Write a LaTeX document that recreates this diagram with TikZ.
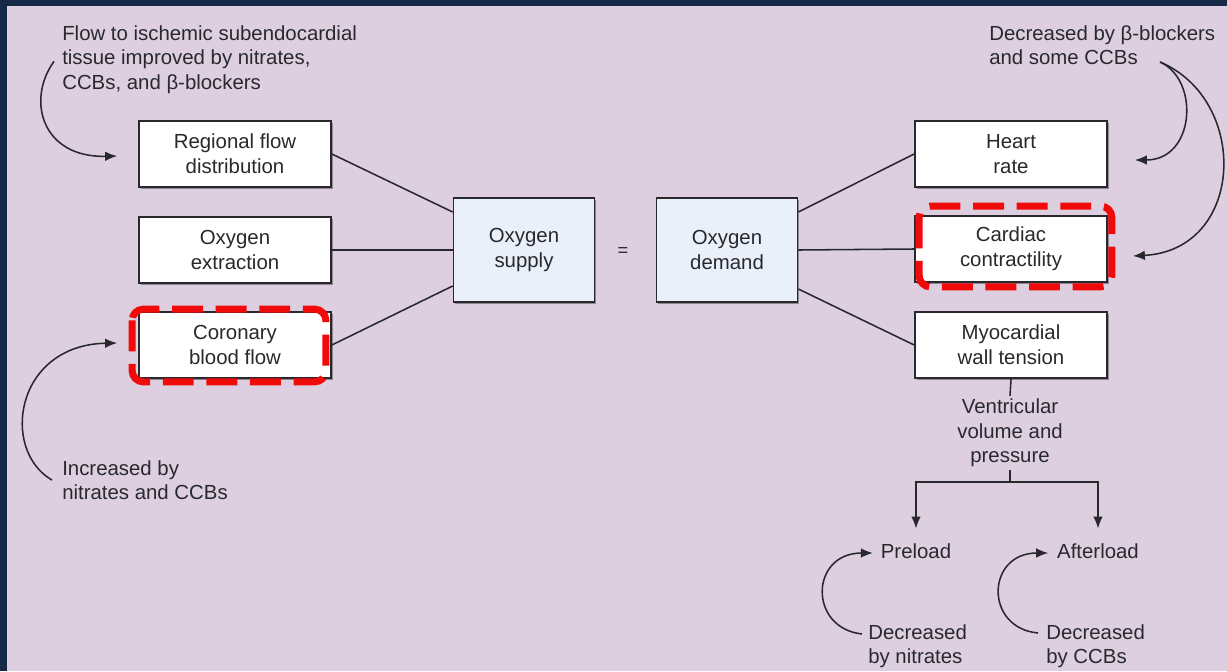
\documentclass[tikz,border=0pt]{standalone}
\usepackage{fontspec}
\setmainfont{Liberation Sans}
\usetikzlibrary{arrows.meta, positioning, calc, shadows}
\definecolor{navyframe}{RGB}{22,42,72}
\definecolor{pinkbg}{RGB}{221,207,224}
\definecolor{inkgray}{RGB}{40,40,45}
\definecolor{paleblue}{RGB}{234,240,250}
\definecolor{markred}{RGB}{240,10,10}

\begin{document}
\begin{tikzpicture}[
  x=0.025cm, y=-0.025cm,
  every node/.style={font=\fontsize{14.5}{17.5}\selectfont, text=inkgray},
  factor/.style={
    rectangle, draw=inkgray, line width=1.2pt, fill=white,
    minimum width=4.8cm, minimum height=1.65cm, align=center,
    drop shadow={shadow xshift=1.2pt, shadow yshift=-1.2pt, opacity=0.35, fill=black}
  },
  balance/.style={
    factor, fill=paleblue,
    minimum width=3.525cm, minimum height=2.6cm
  },
  note/.style={align=left, inner sep=0pt},
  link/.style={line width=1.1pt, draw=inkgray},
  arr/.style={
    link, -{Latex[length=3mm, width=2.4mm]}
  },
  hilite/.style={
    draw=markred, line width=5pt, rounded corners=8pt,
    dash pattern=on 22pt off 9pt
  }
]

% Frame
\fill[navyframe] (0,0) rectangle (1227,671);
\fill[pinkbg] (7,6) rectangle (1227,671);
\useasboundingbox (0,0) rectangle (1227,671);

% Supply factors
\node[factor] (regional) at (235,154) {Regional flow\\distribution};
\node[factor] (extraction) at (235,250) {Oxygen\\extraction};
\node[factor] (coronary) at (235,345) {Coronary\\blood flow};

% Balance
\node[balance] (supply) at (524,250) {Oxygen\\supply};
\node[font=\fontsize{13}{15}\selectfont] (equals) at (623,252) {=};
\node[balance] (demand) at (727,250) {Oxygen\\demand};

% Demand factors
\node[factor] (rate) at (1011,154) {Heart\\rate};
\node[factor] (contract) at (1011,249) {Cardiac\\contractility};
\node[factor] (tension) at (1011,345) {Myocardial\\wall tension};

\node[align=center, inner sep=2pt] (vent) at (1010,433)
{Ventricular\\volume and\\pressure};

\node (pre) at (916,551) {Preload};
\node (after) at (1098,551) {Afterload};

% Notes
\node[note, anchor=north west] (flownote) at (62,25)
{Flow to ischemic subendocardial\\tissue improved by nitrates,\\CCBs, and β-blockers};

\node[note, anchor=north west] (incnote) at (62,460)
{Increased by\\nitrates and CCBs};

\node[note, anchor=north west] (decnote) at (989,25)
{Decreased by β-blockers\\and some CCBs};

\node[note, anchor=north west] (nitnote) at (868,624)
{Decreased\\by nitrates};

\node[note, anchor=north west] (ccbnote) at (1046,624)
{Decreased\\by CCBs};

% Supply links
\draw[link] (regional.east) -- ($(supply.west)+(0,-38)$);
\draw[link] (extraction.east) -- (supply.west);
\draw[link] (coronary.east) -- ($(supply.west)+(0,36)$);

% Demand links
\draw[link] ($(demand.east)+(0,-38)$) -- (rate.west);
\draw[link] (demand.east) -- (contract.west);
\draw[link] ($(demand.east)+(0,39)$) -- (tension.west);

% Wall tension branch
\coordinate (split) at (1010,482);
\draw[link] (tension.south) -- (vent.north);
\draw[link] (vent.south) -- (split);
\draw[arr, shorten >=0.25cm] (split) -| (pre.north);
\draw[arr, shorten >=0.25cm] (split) -| (after.north);

% Drug effects
\draw[arr] ($(flownote.west)+(-8,2)$) .. controls (26,100) and (42,158) .. ($(regional.west)+(-21,2)$);
\draw[arr] ($(incnote.west)+(-10,0)$) .. controls (0,450) and (15,345) .. ($(coronary.west)+(-21,-2)$);

\coordinate (decfrom) at (1160,62);
\draw[arr] (decfrom) .. controls (1200,80) and (1195,160) .. ($(rate.east)+(27,6)$);
\draw[arr] (decfrom) .. controls (1250,100) and (1245,250) .. ($(contract.east)+(25,7)$);

\draw[arr] ($(nitnote.north west)+(-6,10)$) .. controls (808,628) and (810,553) .. ($(pre.west)+(-3,2)$);
\draw[arr] ($(ccbnote.north west)+(-8,9)$) .. controls (984,628) and (986,553) .. ($(after.west)+(-4,2)$);

% Highlights
\draw[hilite] ($(coronary.north west)+(-6,-2)$) rectangle ($(coronary.south east)+(-6,3)$);
\draw[hilite] ($(contract.north west)+(5,-9)$) rectangle ($(contract.south east)+(4,4)$);

\end{tikzpicture}
\end{document}
